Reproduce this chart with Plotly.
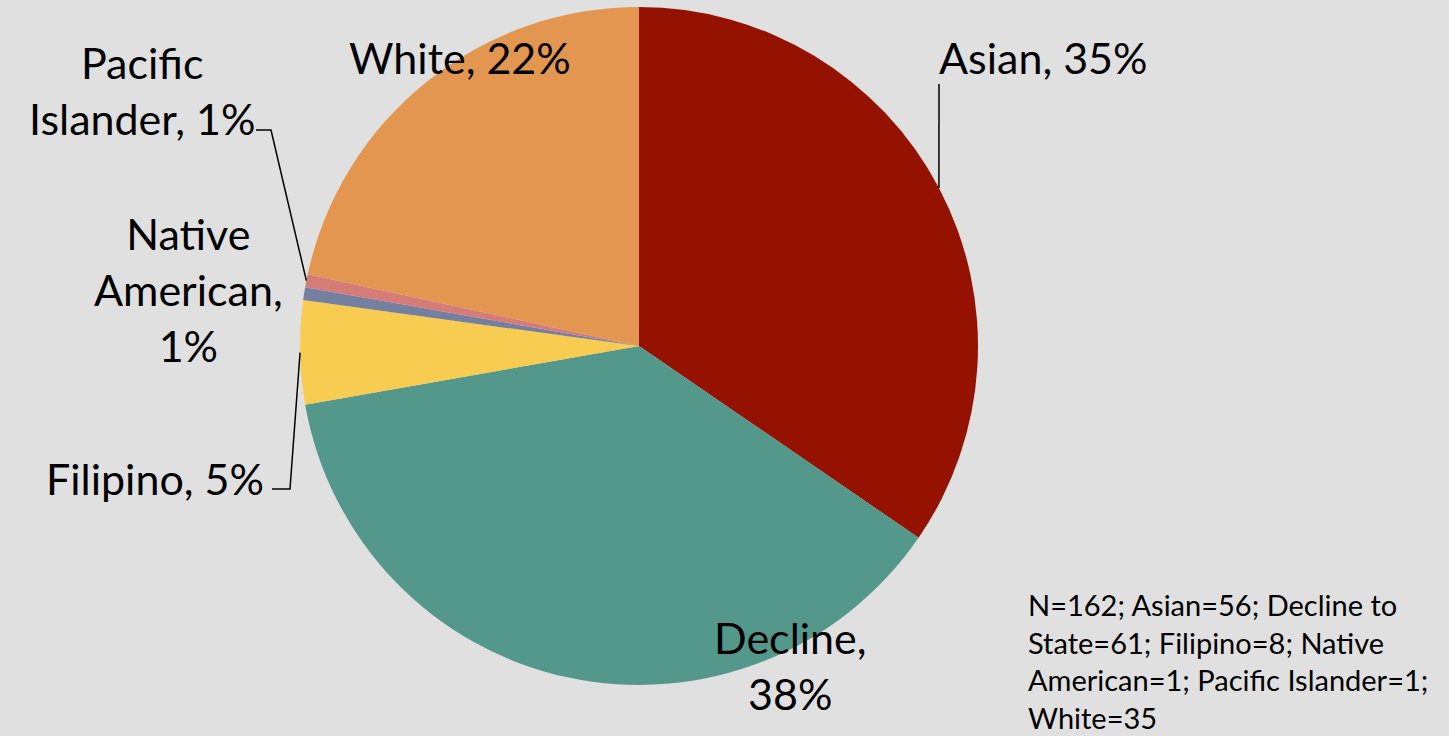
import math
import plotly.graph_objects as go

# ---- data ----
categories = ["Asian", "Decline", "Filipino", "Native American", "Pacific Islander", "White"]
counts = [56, 61, 8, 1, 1, 35]
colors = ["#961200", "#54988c", "#f7cc50", "#7580a0", "#d67c78", "#e3964f"]
label_texts = ["Asian, 35%", "Decline,<br>38%", "Filipino, 5%", "Native<br>American,<br>1%",
               "Pacific<br>Islander, 1%", "White, 22%"]
note_text = ("N=162; Asian=56; Decline to<br>State=61; Filipino=8; Native<br>"
             "American=1; Pacific Islander=1;<br>White=35")

W, H = 1449, 736
FONT = "Lato"

# pie geometry (pixels)
cx, cy, R = 639, 346, 339
dom_x = [(cx - R) / W, (cx + R) / W]
dom_y = [(H - (cy + R)) / H, (H - (cy - R)) / H]

def px(x, y):
    return x / W, 1 - y / H

fig = go.Figure(go.Pie(
    labels=categories, values=counts, sort=False, direction="clockwise", rotation=0,
    marker=dict(colors=colors, line=dict(width=0)),
    textinfo="none", hoverinfo="label+value+percent",
    domain=dict(x=dom_x, y=dom_y), showlegend=False,
))

# label positions (pixel centers)
label_pos = {
    "Asian": (1043, 58),
    "Decline": (790, 665),
    "Filipino": (155, 478),
    "Native American": (188, 289),
    "Pacific Islander": (142, 90),
    "White": (460, 58),
}
annotations = []
for cat, txt in zip(categories, label_texts):
    x, y = label_pos[cat]
    ax, ay = px(x, y)
    annotations.append(dict(x=ax, y=ay, xref="paper", yref="paper", text=txt, showarrow=False,
                            xanchor="center", yanchor="middle", align="center",
                            font=dict(family=FONT, size=43, color="black")))
nx, ny = px(1026, 661)
annotations.append(dict(x=nx, y=ny, xref="paper", yref="paper", text=note_text, showarrow=False,
                        xanchor="left", yanchor="middle", align="left",
                        font=dict(family=FONT, size=29, color="black")))

# leader lines: end points on pie edge computed from slice mid-angles
total = sum(counts)
cum = 0
mid = {}
for c, v in zip(categories, counts):
    a = (cum + v / 2) / total * 2 * math.pi
    mid[c] = (cx + R * math.sin(a), cy - R * math.cos(a))
    cum += v

leaders = {
    "Asian": [(939, 84)],
    "Pacific Islander": [(256, 130), (271, 130)],
    "Filipino": [(272, 489), (290, 489)],
}
shapes = []
for cat, pts in leaders.items():
    allp = pts + [mid[cat]]
    path = ""
    for i, (x, y) in enumerate(allp):
        X, Y = px(x, y)
        path += ("M" if i == 0 else "L") + f" {X} {Y} "
    shapes.append(dict(type="path", path=path, xref="paper", yref="paper",
                       line=dict(color="black", width=1.5)))

fig.update_layout(
    width=W, height=H, margin=dict(l=0, r=0, t=0, b=0),
    paper_bgcolor="#e0e0e0", plot_bgcolor="#e0e0e0",
    annotations=annotations, shapes=shapes,
    font=dict(family=FONT),
)
fig.write_html("out.html", config={"displayModeBar": False},
               post_script="document.body.style.margin='0';document.body.style.overflow='hidden';")
